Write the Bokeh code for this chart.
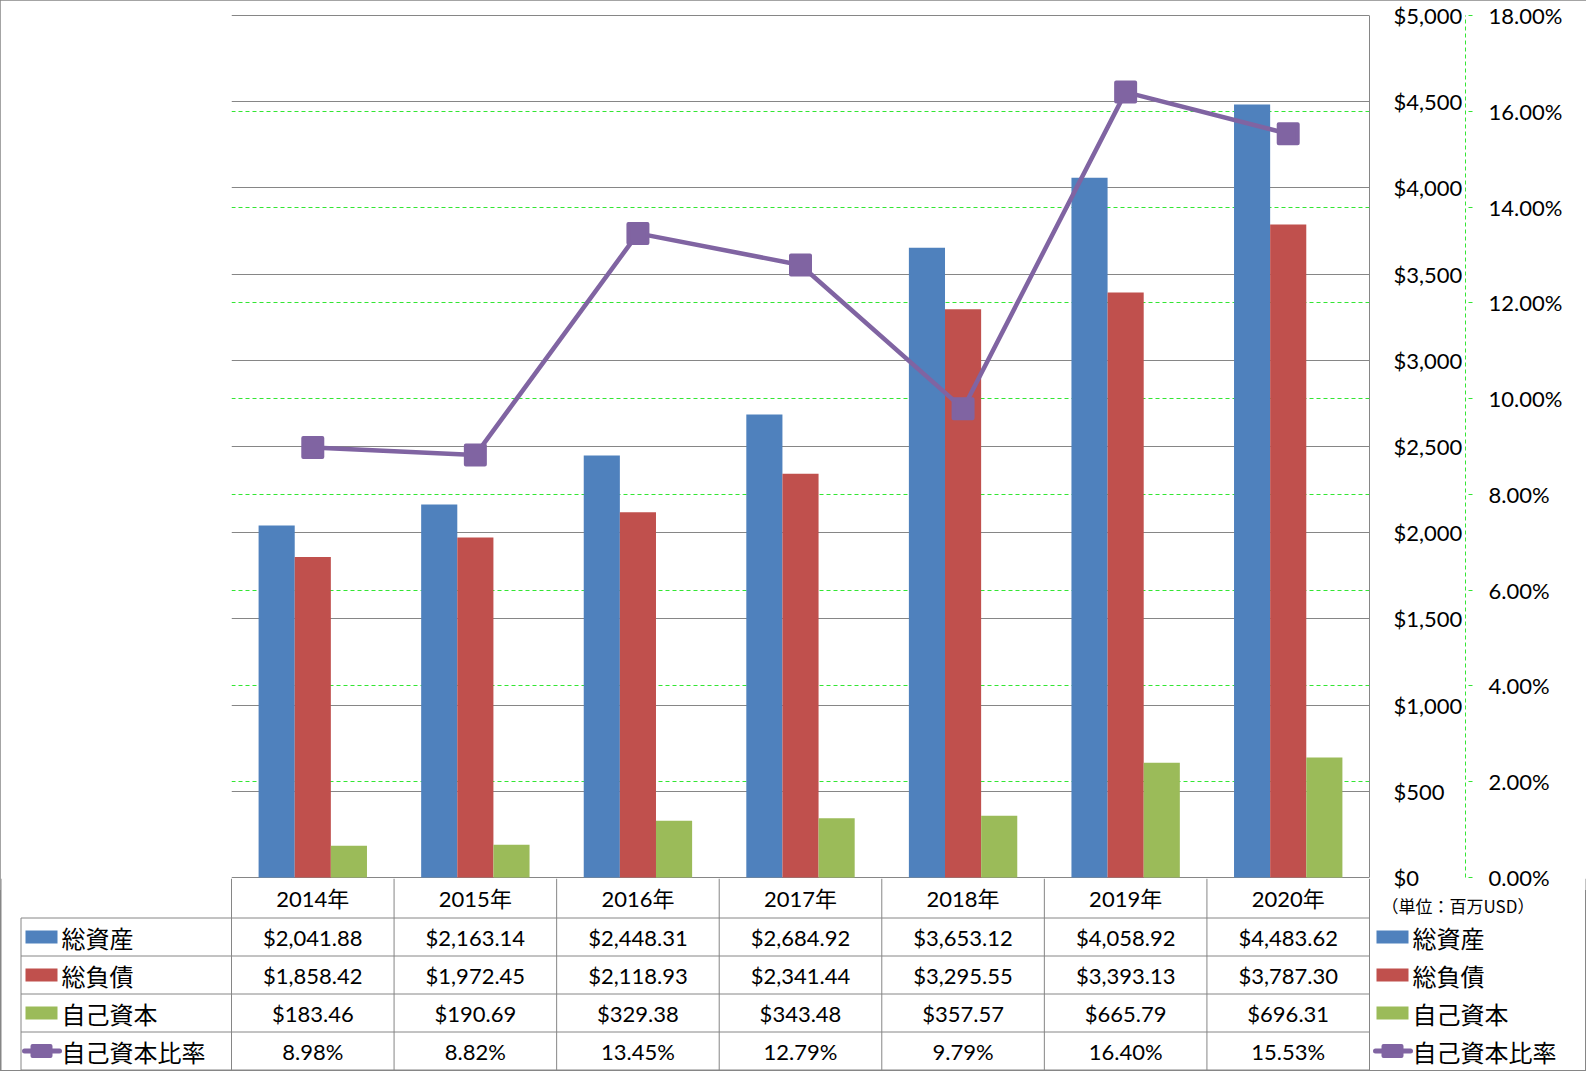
from bokeh.plotting import figure
from bokeh.models import (FactorRange, Range1d, LinearAxis, FixedTicker,
                          NumeralTickFormatter, PrintfTickFormatter, Grid,
                          ColumnDataSource, Plot)
from bokeh.transform import dodge
from bokeh.layouts import column
from bokeh.embed import file_html
from bokeh.resources import INLINE
from bokeh.core.properties import value

# ---------------- data ----------------
years = ["2014年", "2015年", "2016年", "2017年", "2018年", "2019年", "2020年"]
total_assets = [2041.88, 2163.14, 2448.31, 2684.92, 3653.12, 4058.92, 4483.62]
total_liabilities = [1858.42, 1972.45, 2118.93, 2341.44, 3295.55, 3393.13, 3787.30]
equity = [183.46, 190.69, 329.38, 343.48, 357.57, 665.79, 696.31]
equity_ratio = [8.98, 8.82, 13.45, 12.79, 9.79, 16.40, 15.53]
series_names = ["総資産", "総負債", "自己資本", "自己資本比率"]
usd_ticks = [0, 500, 1000, 1500, 2000, 2500, 3000, 3500, 4000, 4500, 5000]
pct_ticks = [0, 2, 4, 6, 8, 10, 12, 14, 16, 18]
unit_note = "（単位：百万USD）"

# ---------------- style / layout ----------------
BLUE, RED, GREEN, PURPLE = "#4F81BD", "#C0504D", "#9BBB59", "#8064A2"
GRAY = "#868686"
LGREEN = "#33E633"
LAT_S = "Lato, Noto Sans CJK JP"
LAT = value(LAT_S)
CJK = value("Noto Sans CJK JP")

W, H = 1586, 1071
FRAME_L, FRAME_R = 231, 1369
FRAME_T, FRAME_B = 14, 878          # frame incl. 1px pad at top
PLOT_T, PLOT_B = 15, 877            # pixel rows of max / zero values
OVERLAP = 12                        # room below the frame for the bottom tick labels
TOP_H = FRAME_B + OVERLAP
TAB_H = H - FRAME_B
N = len(years)
CW = (FRAME_R - FRAME_L) / N
BW = 1 / 4.5                        # bar width (gap width 150%)
ROW_B = [0, 39.5, 77.5, 115.5, 153.5, 191.5]   # table rows (local px)
ROW_C = [19.5, 58.5, 96.5, 134.5, 172.5]
HAS_FA = "frame_align" in Plot.properties()
FA = {"frame_align": False} if HAS_FA else {}


def px2col(px):
    return (px - FRAME_L) / CW


def padded(lo, hi):
    per_px = (hi - lo) / (PLOT_B - PLOT_T)
    return Range1d(lo - per_px * (FRAME_B - PLOT_B), hi + per_px * (PLOT_T - FRAME_T))


# ---------------- chart ----------------
src = ColumnDataSource(dict(year=years, assets=total_assets, liab=total_liabilities,
                            eq=equity, ratio=equity_ratio))

p = figure(width=W, height=TOP_H, x_range=FactorRange(factors=years),
           y_range=padded(usd_ticks[0], usd_ticks[-1]),
           x_axis_type=None, y_axis_type=None,
           output_backend="svg", toolbar_location=None,
           min_border_left=FRAME_L, min_border_right=W - FRAME_R,
           min_border_top=FRAME_T, min_border_bottom=TOP_H - FRAME_B,
           outline_line_color=None, background_fill_color="white",
           border_fill_color="white", **FA)
p.extra_y_ranges = {"pct": padded(pct_ticks[0], pct_ticks[-1])}

g1 = Grid(dimension=1, ticker=FixedTicker(ticks=usd_ticks),
          grid_line_color=GRAY, grid_line_width=1)
g2 = Grid(dimension=1, ticker=FixedTicker(ticks=pct_ticks[1:-1]), y_range_name="pct",
          grid_line_color=LGREEN, grid_line_width=1, grid_line_dash="4 3")
p.add_layout(g1)
p.add_layout(g2)

ax1 = LinearAxis(ticker=FixedTicker(ticks=usd_ticks), bounds=(usd_ticks[0], usd_ticks[-1]),
                 formatter=NumeralTickFormatter(format="$0,0"),
                 axis_line_color=GRAY, axis_line_width=1,
                 major_tick_out=0, major_tick_in=0, minor_tick_out=0, minor_tick_in=0,
                 major_label_standoff=24,
                 major_label_text_font=LAT_S, major_label_text_font_size="22px",
                 major_label_text_color="#000000")
p.add_layout(ax1, "right")

ax2 = LinearAxis(y_range_name="pct", ticker=FixedTicker(ticks=pct_ticks),
                 bounds=(pct_ticks[0], pct_ticks[-1]),
                 formatter=PrintfTickFormatter(format="%.2f%%"),
                 axis_line_color=LGREEN, axis_line_width=1, axis_line_dash="4 3",
                 major_tick_out=7, major_tick_in=0, minor_tick_out=0, minor_tick_in=0,
                 major_tick_line_color=LGREEN, major_tick_line_dash="4 3",
                 major_label_standoff=16,
                 major_label_text_font=LAT_S, major_label_text_font_size="22px",
                 major_label_text_color="#000000")
p.add_layout(ax2, "right")

p.vbar(x=dodge("year", -BW, range=p.x_range), top="assets", width=BW, source=src,
       fill_color=BLUE, line_color=None)
p.vbar(x=dodge("year", 0, range=p.x_range), top="liab", width=BW, source=src,
       fill_color=RED, line_color=None)
p.vbar(x=dodge("year", BW, range=p.x_range), top="eq", width=BW, source=src,
       fill_color=GREEN, line_color=None)

p.line(x="year", y="ratio", y_range_name="pct", source=src, line_color=PURPLE,
       line_width=4.5, line_join="round")
p.scatter(x="year", y="ratio", y_range_name="pct", source=src, marker="square",
          size=19, fill_color=PURPLE, line_color=PURPLE, line_width=4,
          line_join="round")

# ---------------- data table (transparent, pulled up over the label room) ----------------
t = figure(width=W, height=TAB_H,
           x_range=Range1d(px2col(0), px2col(W)), y_range=Range1d(TAB_H, 0),
           x_axis_type=None, y_axis_type=None,
           output_backend="svg", toolbar_location=None, min_border=0,
           min_border_left=0, min_border_right=0, min_border_top=0, min_border_bottom=0,
           outline_line_color=None, background_fill_color=None,
           border_fill_color=None, **FA)
try:
    t.margin = (-OVERLAP, 0, 0, 0)
except Exception:
    pass

LEG_L = px2col(20.5)
# horizontal table lines
hy = ROW_B[1:]
t.segment(x0=[LEG_L] * 5, x1=[N] * 5, y0=hy, y1=hy, line_color=GRAY, line_width=1)
# vertical table lines
vx = list(range(N + 1)) + [LEG_L]
vy0 = [ROW_B[0]] * (N + 1) + [ROW_B[1]]
vy1 = [ROW_B[-1]] * (N + 2)
t.segment(x0=vx, x1=vx, y0=vy0, y1=vy1, line_color=GRAY, line_width=1)
# outer border (lower part)
t.segment(x0=[px2col(0.5), px2col(W - 0.5), px2col(0)],
          x1=[px2col(0.5), px2col(W - 0.5), px2col(W)],
          y0=[0, 0, TAB_H - 0.5], y1=[TAB_H, TAB_H, TAB_H - 0.5],
          line_color=GRAY, line_width=1)

xs = [i + 0.5 for i in range(N)]
t.text(x=xs, y=[ROW_C[0]] * N, text=years, text_font=LAT, text_font_size="22px",
       text_align="center", text_baseline="middle", text_color="#000000")
rows = [
    ["${:,.2f}".format(v) for v in total_assets],
    ["${:,.2f}".format(v) for v in total_liabilities],
    ["${:,.2f}".format(v) for v in equity],
    ["{:.2f}%".format(v) for v in equity_ratio],
]
for r, labels in enumerate(rows):
    t.text(x=xs, y=[ROW_C[r + 1]] * N, text=labels, text_font=LAT,
           text_font_size="22px", text_align="center", text_baseline="middle",
           text_color="#000000")

# legend keys (left column of the table, and right of the table)
for sw_px, tx_px in [(41, 61), (1392, 1412)]:
    t.rect(x=[px2col(sw_px)] * 3, y=ROW_C[1:4], width=32, height=13,
           width_units="screen", height_units="screen",
           fill_color=[BLUE, RED, GREEN], line_color=None)
    t.segment(x0=[px2col(sw_px - 17)], x1=[px2col(sw_px + 18)], y0=[ROW_C[4]],
              y1=[ROW_C[4]], line_color=PURPLE, line_width=5, line_cap="round")
    t.rect(x=[px2col(sw_px)], y=[ROW_C[4]], width=18, height=10,
           width_units="screen", height_units="screen", fill_color=PURPLE,
           line_color=PURPLE, line_width=4, line_join="round")
    t.text(x=[px2col(tx_px)] * 4, y=ROW_C[1:5], text=series_names, text_font=CJK,
           text_font_size="24px", text_align="left", text_baseline="middle",
           text_color="#000000")

t.text(x=[px2col(1381)], y=[27], text=[unit_note], text_font=CJK,
       text_font_size="17px", text_align="left", text_baseline="middle",
       text_color="#000000")

if HAS_FA:
    layout = column(p, t, spacing=0,
                    styles={"outline": "1px solid #868686", "outline-offset": "-1px"})
    html = file_html(layout, INLINE)
else:
    html = file_html([p, t], INLINE)
open("out.html", "w").write(html)
